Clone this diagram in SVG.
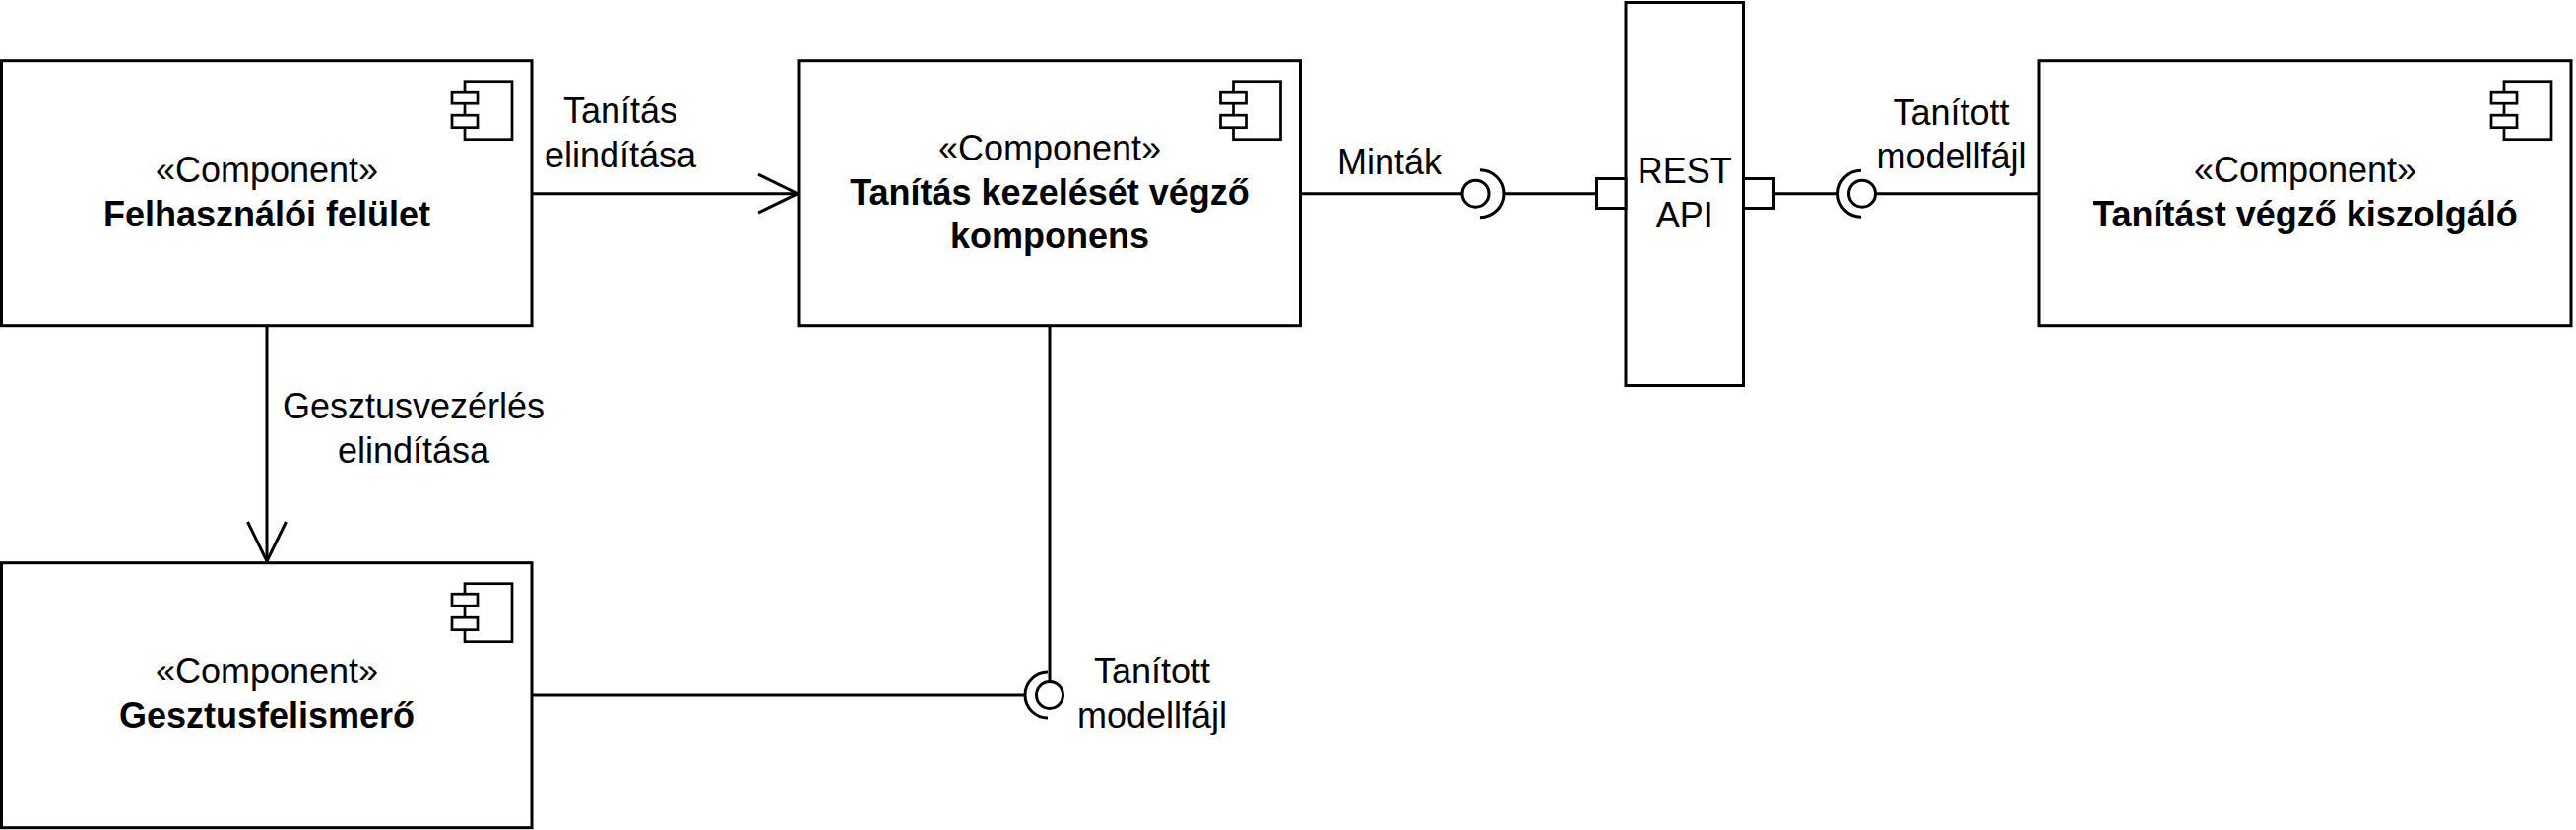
<svg xmlns="http://www.w3.org/2000/svg" xmlns:xlink="http://www.w3.org/1999/xlink" width="2616" height="843" viewBox="0 0 2616 843">
<style>
  .box { fill: #ffffff; stroke: #000000; stroke-width: 3; }
  .icon { fill: #ffffff; stroke: #000000; stroke-width: 2.7; }
  .line { fill: none; stroke: #000000; stroke-width: 3; }
  .port { fill: #ffffff; stroke: #000000; stroke-width: 3; }
  text { font-family: "Liberation Sans", Arial, Helvetica, sans-serif; font-size: 36px; fill: #000000; text-anchor: middle; }
  .b { font-weight: bold; }
</style>
<defs>
  <marker id="open" markerUnits="userSpaceOnUse" viewBox="0 0 46 44" markerWidth="46" markerHeight="44" refX="42" refY="22" orient="auto">
    <path d="M 2 2.5 L 42 22 L 2 41.5" fill="none" stroke="#000000" stroke-width="3"/>
  </marker>
  <g id="compIcon">
    <rect class="icon" x="-68" y="21" width="48" height="59"/>
    <rect class="icon" x="-81" y="31.5" width="26" height="12"/>
    <rect class="icon" x="-81" y="55.5" width="26" height="12.5"/>
  </g>
</defs>
<rect width="2616" height="843" fill="#ffffff"/>

<g id="connectors">
  <line class="line" x1="541" y1="196.7" x2="810" y2="196.7" marker-end="url(#open)"/>
  <line class="line" x1="271" y1="331" x2="271" y2="570" marker-end="url(#open)"/>
  <!-- Minták -->
  <line class="line" x1="1321" y1="196.7" x2="1485" y2="196.7"/>
  <circle class="line" cx="1498.5" cy="196.7" r="13.5"/>
  <path class="line" d="M 1503 172.7 A 24 24 0 0 1 1503 220.7"/>
  <line class="line" x1="1527" y1="196.7" x2="1621.5" y2="196.7"/>
  <!-- right interface -->
  <line class="line" x1="1802" y1="196.7" x2="1866.5" y2="196.7"/>
  <path class="line" d="M 1890 173.2 A 23.5 23.5 0 0 0 1890 220.2"/>
  <circle class="line" cx="1891" cy="196.7" r="13.5"/>
  <line class="line" x1="1904.5" y1="196.7" x2="2071" y2="196.7"/>
  <!-- bottom interface -->
  <line class="line" x1="1066" y1="331" x2="1066" y2="692.5"/>
  <circle class="line" cx="1066" cy="706" r="13.5"/>
  <path class="line" d="M 1064 683 A 23 23 0 0 0 1064 729"/>
  <line class="line" x1="541" y1="706" x2="1041" y2="706"/>
  <!-- labels -->
  <text x="630" y="124.5">Tanítás</text>
  <text x="630" y="170">elindítása</text>
  <text x="1411" y="176.7">Minták</text>
  <text x="1981.5" y="126.5">Tanított</text>
  <text x="1981.5" y="171">modellfájl</text>
  <text x="420" y="424.5">Gesztusvezérlés</text>
  <text x="420" y="469.5">elindítása</text>
  <text x="1170" y="694">Tanított</text>
  <text x="1170" y="739">modellfájl</text>
</g>

<g id="felhasznaloi-felulet">
  <rect class="box" x="1.5" y="61.7" width="538.5" height="269"/>
  <use xlink:href="#compIcon" x="540" y="61.7"/>
  <text x="271" y="185">«Component»</text>
  <text class="b" x="271" y="230">Felhasználói felület</text>
</g>

<g id="tanitas-kezelo">
  <rect class="box" x="811" y="61.7" width="509.5" height="269"/>
  <use xlink:href="#compIcon" x="1320.5" y="61.7"/>
  <text x="1066" y="163">«Component»</text>
  <text class="b" x="1066" y="207.5">Tanítás kezelését végző</text>
  <text class="b" x="1066" y="252">komponens</text>
</g>

<g id="rest-api">
  <rect class="box" x="1651" y="2.5" width="119.5" height="389"/>
  <rect class="port" x="1621.5" y="181.5" width="29.5" height="30"/>
  <rect class="port" x="1770.5" y="181.5" width="31" height="30"/>
  <text x="1710.7" y="186">REST</text>
  <text x="1710.7" y="231">API</text>
</g>

<g id="tanitast-vegzo-kiszolgalo">
  <rect class="box" x="2071" y="61.7" width="540" height="269"/>
  <use xlink:href="#compIcon" x="2611" y="61.7"/>
  <text x="2341" y="185">«Component»</text>
  <text class="b" x="2341" y="230">Tanítást végző kiszolgáló</text>
</g>

<g id="gesztusfelismero">
  <rect class="box" x="1.5" y="571.7" width="538.5" height="269"/>
  <use xlink:href="#compIcon" x="540" y="571.7"/>
  <text x="271" y="694">«Component»</text>
  <text class="b" x="271" y="739">Gesztusfelismerő</text>
</g>
</svg>
